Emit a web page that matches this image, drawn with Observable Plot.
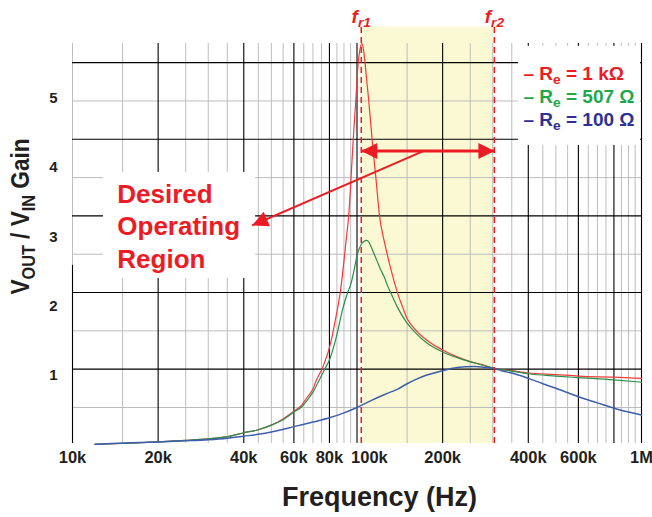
<!DOCTYPE html>
<html>
<head>
<meta charset="utf-8">
<script src="https://cdn.jsdelivr.net/npm/d3@7"></script>
<script src="https://cdn.jsdelivr.net/npm/@observablehq/plot@0.6"></script>
<style>
  html, body { margin: 0; padding: 0; background: #fff; }
  #chart svg { display: block; }
</style>
</head>
<body>
<div id="chart"></div>
<script>
// ---------------- data ----------------
// Re = 1 kOhm
const freqRedK = [12, 15, 20, 25, 30, 35, 40, 45, 50, 55, 60, 63.5, 67, 70, 72, 75.3, 78, 80, 82, 84, 86, 87.3, 89, 90.5, 92, 93.5, 95.3, 97, 99, 101, 102.5, 104, 105.3, 106.7, 108.3, 110, 113, 116.5, 120, 125, 130, 135, 139, 145, 150, 160, 177, 200, 225, 250, 275, 304, 350, 400, 500, 600, 800, 1000];
const gainRed  = [0.02, 0.03, 0.05, 0.07, 0.09, 0.12, 0.17, 0.21, 0.27, 0.35, 0.45, 0.52, 0.64, 0.74, 0.86, 1.0, 1.15, 1.28, 1.45, 1.65, 1.85, 2.0, 2.25, 2.5, 2.75, 3.0, 3.5, 4.0, 4.5, 5.0, 5.18, 5.25, 5.18, 5.0, 4.75, 4.5, 4.0, 3.5, 3.0, 2.65, 2.38, 2.15, 1.99, 1.8, 1.66, 1.52, 1.37, 1.25, 1.16, 1.1, 1.06, 1.01, 0.98, 0.95, 0.93, 0.91, 0.895, 0.88];
// Re = 507 Ohm
const freqGreenK = [12, 15, 20, 25, 30, 35, 40, 45, 50, 55, 60, 63.5, 67, 70, 73.5, 77, 80, 85, 89, 92.7, 95.3, 98, 100, 102, 104, 106, 108, 110, 112, 115, 118, 121, 124.8, 128, 131.7, 135, 140, 150, 160, 177, 200, 225, 250, 275, 304, 350, 400, 500, 600, 800, 1000];
const gainGreen  = [0.02, 0.03, 0.05, 0.07, 0.09, 0.12, 0.17, 0.21, 0.27, 0.34, 0.44, 0.50, 0.60, 0.70, 0.85, 1.0, 1.12, 1.45, 1.78, 2.0, 2.12, 2.32, 2.48, 2.58, 2.64, 2.67, 2.68, 2.66, 2.6, 2.5, 2.4, 2.3, 2.2, 2.09, 1.99, 1.90, 1.78, 1.60, 1.48, 1.335, 1.225, 1.15, 1.095, 1.055, 1.01, 0.975, 0.94, 0.91, 0.89, 0.86, 0.83];
// Re = 100 Ohm
const freqBlueK = [12, 15, 20, 25, 30, 35, 40, 45, 50, 55, 60, 70, 80, 90, 100, 112, 125, 139, 150, 162, 175, 200, 220, 240, 260, 280, 304, 325, 350, 400, 450, 500, 600, 700, 800, 900, 1000];
const gainBlue  = [0.02, 0.035, 0.05, 0.065, 0.08, 0.10, 0.126, 0.15, 0.18, 0.215, 0.25, 0.31, 0.365, 0.43, 0.50, 0.59, 0.67, 0.74, 0.81, 0.87, 0.92, 0.98, 1.015, 1.03, 1.035, 1.025, 1.01, 0.975, 0.95, 0.88, 0.81, 0.75, 0.64, 0.56, 0.49, 0.44, 0.40];

const seriesNames  = ["R_{e} = 1 kΩ", "R_{e} = 507 Ω", "R_{e} = 100 Ω"];

// axis tick labels and where they sit in the reference (the "100k" label is set right of its line)
const xTickLabels = ["10k", "20k", "40k", "60k", "80k", "100k", "200k", "400k", "600k", "1M"];
const xTickAt     = [1e4, 2e4, 4e4, 6e4, 8e4, 1.106e5, 2e5, 4e5, 6e5, 1e6];
const yTickLabels = ["1", "2", "3", "4", "5"];
const yTickAt     = [0.918, 1.819, 2.719, 3.633, 4.534];

// grid
const gridMajorX = [2e4, 4e4, 6e4, 8e4, 1e5, 2e5, 4e5, 6e5, 8e5, 1e6];
const gridMinorX = [1e4, 1.5e4, 2.5e4, 3e4, 3.5e4, 4.5e4, 5e4, 5.5e4, 6.5e4, 7e4, 7.5e4, 8.5e4, 9e4, 9.5e4,
                    1.5e5, 2.5e5, 3e5, 3.5e5, 4.5e5, 5e5, 5.5e5, 6.5e5, 7e5, 7.5e5, 8.5e5, 9e5, 9.5e5];
const gridMajorY = [1, 2, 3, 4, 5];
const gridMinorY = [0.5, 1.5, 2.5, 3.5, 4.5];

// annotations
const fr1 = 103500, fr2 = 304000;
const frLabels = ["f_{r1}", "f_{r2}"];
const bandTop = 5.465;
const arrowGain = 3.846;
const pointerFrom = {f: 170900, g: 3.846};
const pointerTo   = {f: 42800, g: 2.876};
const regionText = "Desired\nOperating\nRegion";
const regionAt = {f: 14370, g: 2.881};
const legendBox = {f1: 369600, f2: 992000, g1: 3.92, g2: 5.213};
const regionBox = {f1: 12850, f2: 44000, g1: 2.184, g2: 3.568};
const legendAt = {f: 384800, g: [4.852, 4.552, 4.252]};
const xTitle = "Frequency (Hz)";
const yTitle = "V_{OUT} / V_{IN} Gain";

// ---------------- styling ----------------
const RED = "#ED1C24", GREEN = "#1EA84B", BLUE = "#2E3192";
const curveColors = ["#F23A3A", "#25904A", "#3E5EAD"];
const INK = "#231F20";
const FONT = "'Liberation Sans', Arial, Helvetica, sans-serif";

const toRows = (fk, g) => fk.map((f, i) => ({f: f * 1000, g: g[i]}));
const series = [toRows(freqRedK, gainRed), toRows(freqGreenK, gainGreen), toRows(freqBlueK, gainBlue)];

// filled arrow head pointing to +x with its tip at the origin
const arrowHead = {
  draw(ctx) {
    ctx.moveTo(0, 0);
    ctx.lineTo(-16, -8);
    ctx.lineTo(-16, 8);
    ctx.closePath();
  }
};

const chart = Plot.plot({
  width: 652,
  height: 517,
  marginLeft: 72,
  marginRight: 11,
  marginTop: 43,
  marginBottom: 74,
  style: {fontFamily: FONT, background: "#fff", overflow: "visible"},
  x: {type: "log", domain: [1e4, 1e6], axis: null},
  y: {domain: [0.03, 5.25], axis: null},
  marks: [
    // operating band
    Plot.rect([{x1: fr1, x2: fr2}], {x1: "x1", x2: "x2", y1: 0.03, y2: bandTop, fill: "#FBF8D4"}),
    // grid
    Plot.ruleX(gridMinorX, {stroke: "#BDBDBD", strokeWidth: 1}),
    Plot.ruleY(gridMinorY, {stroke: "#BDBDBD", strokeWidth: 1}),
    Plot.ruleX(gridMajorX, {stroke: "#000", strokeWidth: 1.1}),
    Plot.ruleY(gridMajorY, {stroke: "#000", strokeWidth: 1.1}),
    Plot.ruleX([1e4], {y1: 0.03, y2: 2.354, stroke: "#000", strokeWidth: 1.1}),
    // white boxes behind legend and annotation text
    Plot.rect([legendBox, regionBox], {x1: "f1", x2: "f2", y1: "g1", y2: "g2", fill: "#fff"}),
    // curves
    ...series.map((rows, i) => Plot.line(rows, {
      x: "f", y: "g", stroke: curveColors[i], strokeWidth: i === 2 ? 1.5 : 1.2, curve: "monotone-x"
    })),
    // resonant frequency markers
    Plot.ruleX([fr1, fr2], {y1: 0.03, y2: bandTop, stroke: RED, strokeWidth: 1.5, strokeDasharray: "6,4"}),
    Plot.text([fr1, fr2], {
      x: d => d, y: 5.518, text: (d, i) => frLabels[i], lineAnchor: "bottom", textAnchor: "middle",
      fill: RED, fontSize: 19, fontWeight: "bold", fontStyle: "italic"
    }),
    // double arrow across the band
    Plot.link([{f1: fr1, f2: fr2}], {x1: "f1", x2: "f2", y1: arrowGain, y2: arrowGain, stroke: RED, strokeWidth: 3}),
    Plot.dot([{f: fr1, r: 180}, {f: fr2, r: 0}], {
      x: "f", y: arrowGain, rotate: "r", symbol: arrowHead, fill: RED, stroke: "none", r: 6
    }),
    // pointer to the text
    Plot.link([{a: pointerFrom, b: pointerTo}], {
      x1: d => d.a.f, y1: d => d.a.g, x2: d => d.b.f, y2: d => d.b.g, stroke: RED, strokeWidth: 2
    }),
    Plot.dot([pointerTo], {x: "f", y: "g", rotate: 156.5, symbol: arrowHead, fill: RED, stroke: "none", r: 6}),
    Plot.text([regionText], {
      x: regionAt.f, y: regionAt.g, text: d => d, textAnchor: "start", lineAnchor: "middle", lineHeight: 1.25,
      fill: RED, fontSize: 26, fontWeight: "bold"
    }),
    // legend
    Plot.text(seriesNames, {
      x: legendAt.f, y: (d, i) => legendAt.g[i], text: d => "– " + d, textAnchor: "start",
      fill: (d, i) => [RED, GREEN, BLUE][i], fontSize: 19, fontWeight: "bold"
    }),
    // x tick labels
    Plot.text(xTickAt, {
      x: d => d, frameAnchor: "bottom", text: (d, i) => xTickLabels[i], textAnchor: "middle", lineAnchor: "top",
      dy: 8, fill: INK, fontSize: 16.5, fontWeight: "bold"
    }),
    // y tick labels
    Plot.text(yTickAt, {
      y: d => d, frameAnchor: "left", text: (d, i) => yTickLabels[i], textAnchor: "end", lineAnchor: "middle",
      dx: -15, fill: INK, fontSize: 15, fontWeight: "bold"
    }),
    // axis titles
    Plot.text([xTitle], {
      frameAnchor: "bottom", text: d => d, textAnchor: "middle", lineAnchor: "middle",
      dx: 22.5, dy: 54, fill: INK, fontSize: 27, fontWeight: "bold"
    }),
    Plot.text([yTitle], {
      frameAnchor: "left", text: d => d, textAnchor: "middle", lineAnchor: "middle", rotate: -90,
      dx: -51.5, dy: -27, fill: INK, fontSize: 26, fontWeight: "bold"
    })
  ]
});

document.getElementById("chart").appendChild(chart);

// turn _{...} into real subscripts
const SVGNS = "http://www.w3.org/2000/svg";
chart.querySelectorAll("text").forEach(t => {
  const str = t.textContent;
  if (!str.includes("_{") || t.children.length) return;
  const fs = parseFloat(getComputedStyle(t).fontSize) || 16;
  const parts = [];
  const re = /_\{([^}]*)\}/g;
  let last = 0, m;
  while ((m = re.exec(str))) {
    if (m.index > last) parts.push({s: str.slice(last, m.index), sub: false});
    parts.push({s: m[1], sub: true});
    last = re.lastIndex;
  }
  if (last < str.length) parts.push({s: str.slice(last), sub: false});
  t.textContent = "";
  let cur = 0;
  for (const p of parts) {
    const ts = document.createElementNS(SVGNS, "tspan");
    const target = p.sub ? fs * 0.2 : 0;
    if (target !== cur) ts.setAttribute("dy", target - cur);
    cur = target;
    if (p.sub) ts.setAttribute("font-size", (fs * 0.72).toFixed(1));
    ts.textContent = p.s;
    t.appendChild(ts);
  }
  t.style.whiteSpace = "pre";
  // the reference's y title is set in a narrower face: compress along the text direction
  if (str === yTitle) {
    const tr = t.getAttribute("transform") || "";
    t.setAttribute("transform", tr + " scale(0.87,1)");
  }
});
</script>
</body>
</html>
